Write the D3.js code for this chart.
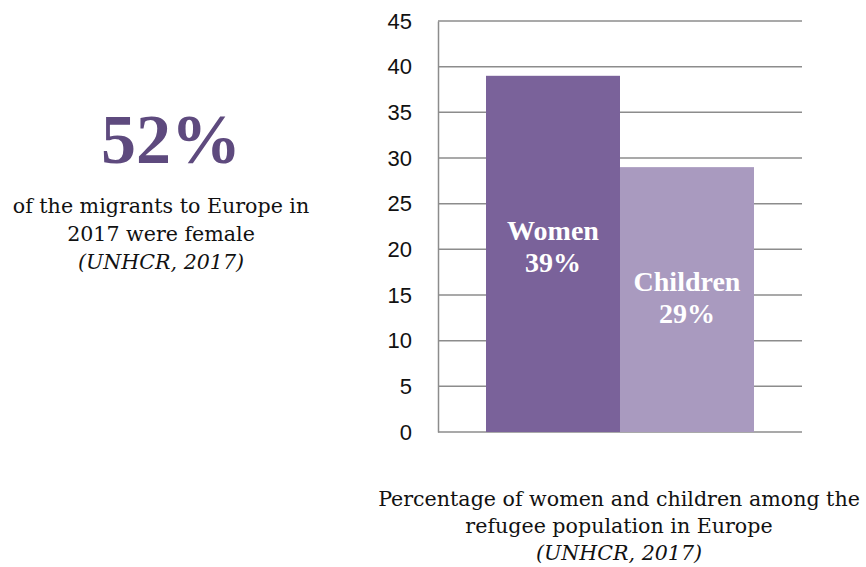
<!DOCTYPE html>
<html>
<head>
<meta charset="utf-8">
<script src="https://cdnjs.cloudflare.com/ajax/libs/d3/7.8.5/d3.min.js"></script>
<style>
  body { margin: 0; background: #fff; }
  svg { display: block; }
</style>
</head>
<body>
<svg id="chart" width="866" height="567"></svg>
<script>
// data
var categories = ['Women', 'Children'];
var values = [39, 29];
var yTicks = [0, 5, 10, 15, 20, 25, 30, 35, 40, 45];
var barColors = ['#7a629a', '#a99abf'];
var headline = '52%';
var headlineNote = ['of the migrants to Europe in', '2017 were female'];
var source = '(UNHCR, 2017)';
var caption = ['Percentage of women and children among the', 'refugee population in Europe'];

var svg = d3.select('#chart');
var serif = '"Liberation Serif", "Times New Roman", serif';
var bodySerif = '"DejaVu Serif", serif';

var plot = {left: 438, right: 802, top: 21, bottom: 432};

var y = d3.scaleLinear().domain([0, 45]).range([plot.bottom, plot.top]);
var x = d3.scaleBand().domain(categories)
    .range([plot.left + 48, plot.right - 48])
    .paddingInner(0).paddingOuter(0);

// gridlines
svg.append('g')
    .selectAll('line')
    .data(yTicks)
    .enter().append('line')
    .attr('x1', plot.left).attr('x2', plot.right)
    .attr('y1', function (d) { return y(d); })
    .attr('y2', function (d) { return y(d); })
    .style('stroke', '#8c8c8c')
    .style('stroke-width', 1.5);

// y axis
var yAxis = d3.axisLeft(y).tickValues(yTicks).tickSize(0).tickPadding(12);
var gy = svg.append('g')
    .attr('transform', 'translate(' + plot.left + ',0)')
    .call(yAxis);
gy.select('.domain').style('stroke', '#8c8c8c').style('stroke-width', 1.5);
gy.selectAll('text')
    .style('font-family', '"Liberation Sans", Arial, sans-serif')
    .style('font-size', '22px')
    .style('fill', '#111')
    .attr('dx', '-14');

// bars
svg.append('g')
    .selectAll('rect')
    .data(values)
    .enter().append('rect')
    .attr('x', function (d, i) { return x(categories[i]); })
    .attr('width', x.bandwidth())
    .attr('y', function (d) { return y(d); })
    .attr('height', function (d) { return y(0) - y(d); })
    .style('fill', function (d, i) { return barColors[i]; });

// labels inside the bars
var labelOffset = [164, 124];
var lbl = svg.append('g')
    .selectAll('text')
    .data(values)
    .enter().append('text')
    .attr('text-anchor', 'middle')
    .style('font-family', serif)
    .style('font-weight', 'bold')
    .style('font-size', '28px')
    .style('fill', '#fff');
lbl.append('tspan')
    .attr('x', function (d, i) { return x(categories[i]) + x.bandwidth() / 2; })
    .attr('y', function (d, i) { return y(d) + labelOffset[i]; })
    .text(function (d, i) { return categories[i]; });
lbl.append('tspan')
    .attr('x', function (d, i) { return x(categories[i]) + x.bandwidth() / 2; })
    .attr('dy', 32)
    .text(function (d) { return d + '%'; });

// left headline
svg.append('text')
    .attr('x', 171).attr('y', 163)
    .attr('text-anchor', 'middle')
    .style('font-family', serif)
    .style('font-weight', 'bold')
    .style('font-size', '70px')
    .style('fill', '#5e4a7e')
    .text(headline);

var note = svg.append('text')
    .attr('text-anchor', 'middle')
    .style('font-family', bodySerif)
    .style('font-size', '20.6px')
    .style('fill', '#111');
headlineNote.forEach(function (t, i) {
    note.append('tspan').attr('x', 161).attr('y', 213 + i * 28).text(t);
});
note.append('tspan').attr('x', 161).attr('y', 269)
    .style('font-style', 'italic').text(source);

// caption under the chart
var cap = svg.append('text')
    .attr('text-anchor', 'middle')
    .style('font-family', bodySerif)
    .style('font-size', '20.6px')
    .style('fill', '#111');
caption.forEach(function (t, i) {
    cap.append('tspan').attr('x', 619).attr('y', 506 + i * 27).text(t);
});
cap.append('tspan').attr('x', 619).attr('y', 560)
    .style('font-style', 'italic').text(source);
</script>
</body>
</html>
